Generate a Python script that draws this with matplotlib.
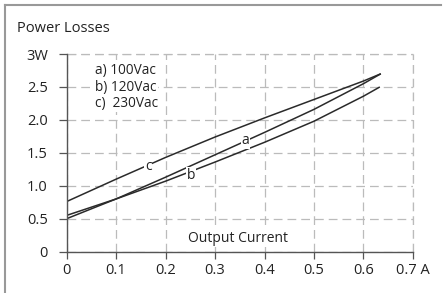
import matplotlib
matplotlib.use("Agg")
import matplotlib.pyplot as plt
from matplotlib.lines import Line2D
import matplotlib.transforms as mtransforms

# ---- data ----
current_x = [0.0, 0.1, 0.2, 0.3, 0.4, 0.5, 0.6, 0.635]
loss_a = [0.50, 0.80, 1.13, 1.47, 1.81, 2.16, 2.55, 2.70]   # 100Vac
loss_b_x = [0.0, 0.1, 0.2, 0.3, 0.4, 0.5, 0.6, 0.633]
loss_b = [0.55, 0.80, 1.07, 1.36, 1.66, 1.98, 2.36, 2.50]   # 120Vac
loss_c = [0.76, 1.10, 1.43, 1.74, 2.03, 2.31, 2.59, 2.70]   # 230Vac

x_ticks = [0, 0.1, 0.2, 0.3, 0.4, 0.5, 0.6, 0.7]
x_tick_labels = ["0", "0.1", "0.2", "0.3", "0.4", "0.5", "0.6", "0.7 A"]
y_ticks = [0, 0.5, 1.0, 1.5, 2.0, 2.5, 3.0]
y_tick_labels = ["0", "0.5", "1.0", "1.5", "2.0", "2.5", "3W"]
legend_lines = ["a) 100Vac", "b) 120Vac", "c)  230Vac"]
curve_labels = ["a", "b", "c"]
curve_label_pos = [(0.361, 1.69), (0.251, 1.16), (0.165, 1.29)]

plt.rcParams['font.family'] = ['Open Sans', 'DejaVu Sans']

W, H = 446, 293
fig = plt.figure(figsize=(W / 100, H / 100), dpi=100)
ax = fig.add_axes([66.5 / W, (H - 251.7) / H, (413 - 66.5) / W, (251.7 - 54) / H])

line_col = "#2a2a2a"
ax.plot(current_x, loss_a, color=line_col, lw=1.1, solid_capstyle='butt')
ax.plot(loss_b_x, loss_b, color=line_col, lw=1.1, solid_capstyle='butt')
ax.plot(current_x, loss_c, color=line_col, lw=1.1, solid_capstyle='butt')

for lab, (lx, ly) in zip(curve_labels, curve_label_pos):
    ax.text(lx, ly, lab, ha='center', va='center', fontsize=10, color="#222222",
            bbox=dict(boxstyle='square,pad=0.05', fc='white', ec='none'), zorder=5)

ax.set_xlim(0, 0.7)
ax.set_ylim(0, 3)
ax.set_xticks(x_ticks)
ax.set_xticklabels(x_tick_labels)
ax.set_yticks(y_ticks)
ax.set_yticklabels(y_tick_labels)

# shift "0.7 A" slightly left
lbls = ax.get_xticklabels()
off = mtransforms.ScaledTranslation(-5 / 100, 0, fig.dpi_scale_trans)
lbls[-1].set_transform(lbls[-1].get_transform() + off)

ax.tick_params(axis='both', direction='out', length=5.5, width=0.9, color="#555555",
               labelsize=10.5, labelcolor="#222222")
ax.tick_params(axis='x', pad=3, length=5)
ax.tick_params(axis='y', pad=8)

for s in ['top', 'right']:
    ax.spines[s].set_visible(False)
for s in ['left', 'bottom']:
    ax.spines[s].set_color("#555555")
    ax.spines[s].set_linewidth(1.0)

ax.grid(True, color="#bbbbbb", linestyle=(0, (7, 4)), linewidth=0.9)
ax.set_axisbelow(True)
ax.axvline(0.7, color="#bbbbbb", linestyle=(0, (7, 4)), linewidth=0.9, zorder=0.5, clip_on=False)
ax.axhline(3.0, color="#bbbbbb", linestyle=(0, (7, 4)), linewidth=0.9, zorder=0.5, clip_on=False)

# legend text block (white background hides grid)
for i, t in enumerate(legend_lines):
    fig.text(95 / W, 1 - (70.7 + i * 16.3) / H, t, ha='left', va='center',
             fontsize=9.8, color="#222222", zorder=5,
             bbox=dict(boxstyle='square,pad=0.1', fc='white', ec='none'))

fig.text(17 / W, 1 - 29 / H, "Power Losses", ha='left', va='center', fontsize=10.5, color="#222222")
fig.text(238 / W, 1 - 238.5 / H, "Output Current", ha='center', va='center', fontsize=10,
         color="#222222", zorder=5, bbox=dict(boxstyle='square,pad=0.1', fc='white', ec='none'))

# partial frame
fig.add_artist(Line2D([5 / W, 441 / W], [1 - 5 / H, 1 - 5 / H], color="#999999", lw=1.5,
                      transform=fig.transFigure))
fig.add_artist(Line2D([5 / W, 5 / W], [1 - 5 / H, 0], color="#999999", lw=1.5,
                      transform=fig.transFigure))

fig.savefig("out.png", dpi=100)
